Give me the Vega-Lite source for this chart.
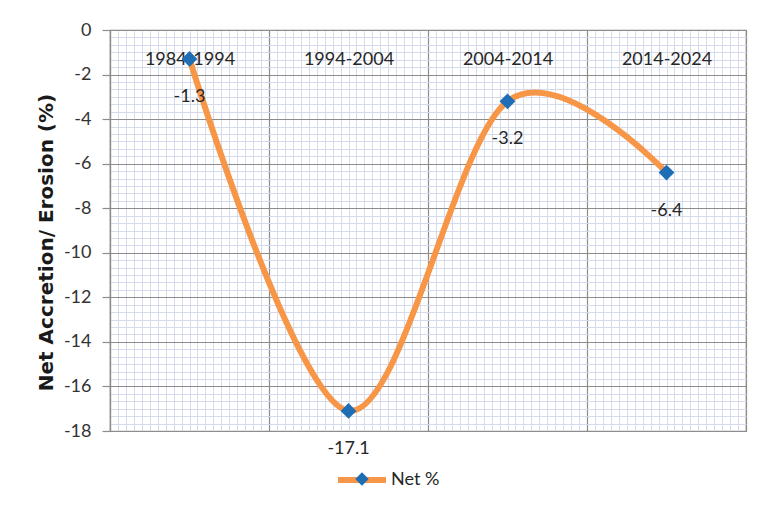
{
  "$schema": "https://vega.github.io/schema/vega-lite/v6.json",
  "width": 636,
  "height": 401,
  "autosize": {"type": "none"},
  "padding": {"left": 110, "top": 30, "right": 26, "bottom": 86},
  "background": "white",
  "config": {
    "font": "Lato",
    "view": {"stroke": "#8c8c8c", "strokeWidth": 1.2}
  },
  "data": {
    "values": [
      {"period": "1984-1994", "net": -1.3},
      {"period": "1994-2004", "net": -17.1},
      {"period": "2004-2014", "net": -3.2},
      {"period": "2014-2024", "net": -6.4}
    ]
  },
  "resolve": {"scale": {"x": "independent", "y": "independent"}, "axis": {"x": "independent", "y": "independent"}},
  "layer": [
    {
      "mark": {"type": "rule", "opacity": 0},
      "encoding": {
        "x": {
          "field": "gx", "type": "quantitative",
          "scale": {"domain": [0, 4], "nice": false, "zero": false},
          "axis": {
            "orient": "bottom", "labels": false, "ticks": false, "domain": false, "title": null,
            "grid": true, "gridColor": "#d5dbec", "gridWidth": 1,
            "values": [0.05,0.1,0.15,0.2,0.25,0.3,0.35,0.4,0.45,0.5,0.55,0.6,0.65,0.7,0.75,0.8,0.85,0.9,0.95,
                       1.05,1.1,1.15,1.2,1.25,1.3,1.35,1.4,1.45,1.5,1.55,1.6,1.65,1.7,1.75,1.8,1.85,1.9,1.95,
                       2.05,2.1,2.15,2.2,2.25,2.3,2.35,2.4,2.45,2.5,2.55,2.6,2.65,2.7,2.75,2.8,2.85,2.9,2.95,
                       3.05,3.1,3.15,3.2,3.25,3.3,3.35,3.4,3.45,3.5,3.55,3.6,3.65,3.7,3.75,3.8,3.85,3.9,3.95]
          }
        },
        "y": {
          "field": "gy", "type": "quantitative",
          "scale": {"domain": [-18, 0], "nice": false, "zero": false},
          "axis": {
            "orient": "left", "labels": false, "ticks": false, "domain": false, "title": null,
            "grid": true, "gridColor": "#d5dbec", "gridWidth": 1,
            "values": [-0.333,-0.667,-1,-1.333,-1.667,-2.333,-2.667,-3,-3.333,-3.667,-4.333,-4.667,-5,-5.333,-5.667,
                       -6.333,-6.667,-7,-7.333,-7.667,-8.333,-8.667,-9,-9.333,-9.667,-10.333,-10.667,-11,-11.333,-11.667,
                       -12.333,-12.667,-13,-13.333,-13.667,-14.333,-14.667,-15,-15.333,-15.667,-16.333,-16.667,-17,-17.333,-17.667]
          }
        }
      }
    },
    {
      "encoding": {
        "x": {
          "field": "period", "type": "nominal", "sort": null,
          "scale": {"type": "band", "paddingInner": 0, "paddingOuter": 0},
          "axis": {
            "orient": "top", "title": null, "ticks": false, "labelAngle": 0,
            "labelBaseline": "middle", "labelPadding": -29,
            "labelFontSize": 18, "labelColor": "#262626",
            "domainColor": "#8c8c8c", "domainWidth": 1.2,
            "grid": true, "gridColor": "#8c8c8c", "gridWidth": 1.2, "tickBand": "extent"
          }
        },
        "y": {
          "field": "net", "type": "quantitative",
          "scale": {"domain": [-18, 0], "nice": false, "zero": false},
          "axis": {
            "orient": "left",
            "values": [-18,-16,-14,-12,-10,-8,-6,-4,-2,0],
            "labelExpr": "replace(datum.label, '−', '-')",
            "title": "Net Accretion/ Erosion (%)",
            "titleFont": "DejaVu Sans", "titleFontSize": 20, "titleFontWeight": "bold", "titleColor": "#1a1a1a", "titlePadding": 7,
            "titleY": 212,
            "labelFontSize": 18, "labelColor": "#333333", "labelPadding": 11,
            "tickSize": 8, "tickColor": "#8c8c8c", "tickWidth": 1.2,
            "domainColor": "#8c8c8c", "domainWidth": 1.2,
            "grid": true, "gridColor": "#8c8c8c", "gridWidth": 1.2
          }
        }
      },
      "layer": [
        {
          "mark": {"type": "line", "interpolate": "cardinal", "strokeWidth": 6, "strokeCap": "round"},
          "encoding": {
            "stroke": {
              "datum": "Net %",
              "scale": {"range": ["#F79646"]},
              "legend": {
                "title": null, "orient": "none", "legendX": 225, "legendY": 423,
                "symbolType": "stroke", "symbolSize": 2304, "symbolStrokeWidth": 6,
                "labelFontSize": 18, "labelColor": "#262626", "labelOffset": 2
              }
            }
          }
        },
        {
          "mark": {"type": "point", "shape": "diamond", "filled": true, "size": 250, "opacity": 1},
          "encoding": {
            "fill": {
              "datum": "marker",
              "scale": {"range": ["#1f6db5"]},
              "legend": {
                "title": null, "orient": "none", "legendX": 243, "legendY": 440,
                "symbolType": "diamond", "symbolSize": 180, "symbolOpacity": 1, "symbolStrokeWidth": 0,
                "labelExpr": "''", "labelFontSize": 18
              }
            }
          }
        },
        {
          "mark": {"type": "text", "dy": 38, "fontSize": 18, "color": "#262626", "font": "Lato"},
          "encoding": {"text": {"field": "net", "type": "nominal"}}
        }
      ]
    }
  ]
}
